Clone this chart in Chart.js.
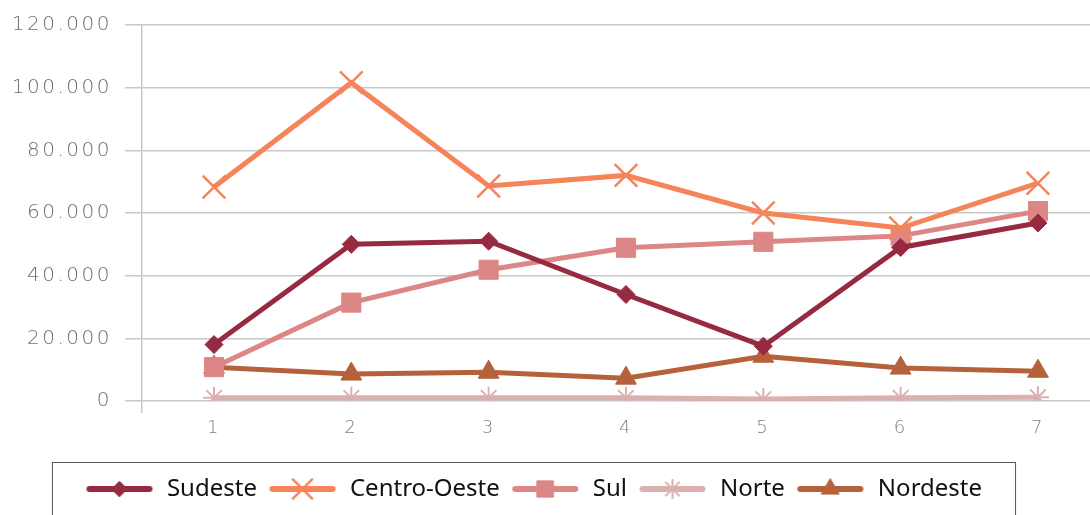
<!DOCTYPE html>
<html>
<head>
<meta charset="utf-8">
<script src="https://cdn.jsdelivr.net/npm/chart.js@4/dist/chart.umd.min.js"></script>
<style>
  html, body { margin: 0; padding: 0; background: #fff; overflow: hidden; }
  #wrap { width: 1090px; height: 515px; }
</style>
</head>
<body>
<div id="wrap"><canvas id="chartCanvas" width="1090" height="515"></canvas></div>
<script>
// dados
const categories = [1, 2, 3, 4, 5, 6, 7];
const sudeste = [18000, 50000, 51000, 34000, 17500, 49000, 56800];
const centroOeste = [68300, 101600, 68600, 72000, 60000, 55200, 69500];
const sul = [10800, 31400, 41900, 48900, 50800, 52700, 60600];
const norte = [1000, 1000, 1000, 1000, 600, 1000, 1200];
const nordeste = [10800, 8600, 9200, 7300, 14300, 10500, 9500];
const yTicks = [0, 20000, 40000, 60000, 80000, 100000, 120000];

const series = [
  { label: 'Sudeste', data: sudeste, color: '#962a41', style: 'rectRot', radius: 9, bw: 1 },
  { label: 'Centro-Oeste', data: centroOeste, color: '#f5845a', style: 'crossRot', radius: 16, bw: 2.5 },
  { label: 'Sul', data: sul, color: '#dc8686', style: 'rect', radius: 13.5, bw: 1 },
  { label: 'Norte', data: norte, color: '#dbb1b0', style: 'star', radius: 11, bw: 2 },
  { label: 'Nordeste', data: nordeste, color: '#b5613c', style: 'triangle', radius: 12, bw: 1 }
];

function fmt(v) {
  return String(v).replace(/\B(?=(\d{3})+(?!\d))/g, '.');
}

// amostra de linha + marcador para a legenda
function legendSample(s) {
  const c = document.createElement('canvas');
  c.width = 68; c.height = 26;
  const g = c.getContext('2d');
  g.strokeStyle = s.color;
  g.lineWidth = 6;
  g.lineCap = 'round';
  g.beginPath();
  g.moveTo(4, 13); g.lineTo(64, 13);
  g.stroke();
  g.fillStyle = s.color;
  g.lineWidth = s.bw;
  Chart.helpers.drawPoint(g, { pointStyle: s.style, radius: s.radius * 0.85, borderWidth: s.bw, rotation: 0 }, 34, 13);
  return c;
}

const legendFrame = {
  id: 'legendFrame',
  afterLayout(chart) {
    chart.legend.left -= 12;
    chart.legend.right -= 12;
  },
  afterDraw(chart) {
    const boxes = chart.legend.legendHitBoxes;
    if (!boxes || !boxes.length) return;
    const first = boxes[0], last = boxes[boxes.length - 1];
    const ctx = chart.ctx;
    ctx.save();
    ctx.letterSpacing = '0px';
    ctx.strokeStyle = '#555';
    ctx.lineWidth = 1;
    ctx.strokeRect(first.left - 31.5, chart.legend.top - 4.5, (last.left + last.width) - first.left + 65, 80);
    ctx.restore();
  },
  afterDatasetsDraw(chart) {
    chart.ctx.letterSpacing = '2.5px';
  }
};

const ctx = document.getElementById('chartCanvas').getContext('2d');
new Chart(ctx, {
  type: 'line',
  data: {
    datasets: series.map(s => ({
      label: s.label,
      data: categories.map((c, i) => ({ x: c, y: s.data[i] })),
      borderColor: s.color,
      backgroundColor: s.color,
      borderWidth: 5,
      pointStyle: s.style,
      pointRadius: s.radius,
      pointHoverRadius: s.radius,
      pointBorderWidth: s.bw,
      pointBorderColor: s.color,
      pointBackgroundColor: s.color,
      tension: 0,
      fill: false
    }))
  },
  options: {
    responsive: false,
    animation: false,
    layout: { autoPadding: false, padding: { top: 23, left: 0, right: 0, bottom: 4 } },
    plugins: {
      tooltip: { enabled: false },
      legend: {
        position: 'bottom',
        labels: {
          usePointStyle: true,
          pointStyleWidth: 71,
          padding: 10,
          color: '#111',
          font: { family: "'Noto Sans', sans-serif", size: 24 },
          generateLabels(chart) {
            return series.map((s, i) => ({
              text: s.label,
              pointStyle: legendSample(s),
              fillStyle: s.color,
              strokeStyle: s.color,
              lineWidth: 0,
              hidden: false,
              datasetIndex: i,
              fontColor: '#111'
            }));
          }
        }
      }
    },
    scales: {
      x: {
        type: 'linear',
        min: 0.4757,
        max: 7.379,
        afterBuildTicks(scale) {
          scale.ticks = [{ value: scale.min }].concat(categories.map(v => ({ value: v })));
        },
        afterFit(scale) {
          scale.height = 66;
          scale.paddingLeft = 0;
          scale.paddingRight = 0;
        },
        border: { display: false },
        grid: {
          drawOnChartArea: false,
          drawTicks: true,
          tickLength: 12,
          lineWidth: 1.5,
          color: c => c.index === 0 ? '#c8c8c8' : 'rgba(0,0,0,0)'
        },
        ticks: {
          z: 1,
          padding: 5,
          color: '#808080',
          font: { family: "'DejaVu Sans ExtraLight', 'DejaVu Sans', sans-serif", size: 18, weight: 200 },
          callback: (v, i) => i === 0 ? '' : String(v)
        }
      },
      y: {
        min: 0,
        max: 120000,
        afterBuildTicks(scale) {
          scale.ticks = yTicks.map(v => ({ value: v }));
        },
        afterFit(scale) { scale.width = 142; },
        border: { display: true, color: '#c8c8c8', width: 1.5 },
        grid: { color: '#c8c8c8', lineWidth: 1.5, tickLength: 17 },
        ticks: {
          z: 1,
          padding: 13,
          color: '#6e6e6e',
          font: { family: "'DejaVu Sans ExtraLight', 'DejaVu Sans', sans-serif", size: 20, weight: 200 },
          callback: v => fmt(v)
        }
      }
    }
  },
  plugins: [legendFrame]
});
</script>
</body>
</html>
